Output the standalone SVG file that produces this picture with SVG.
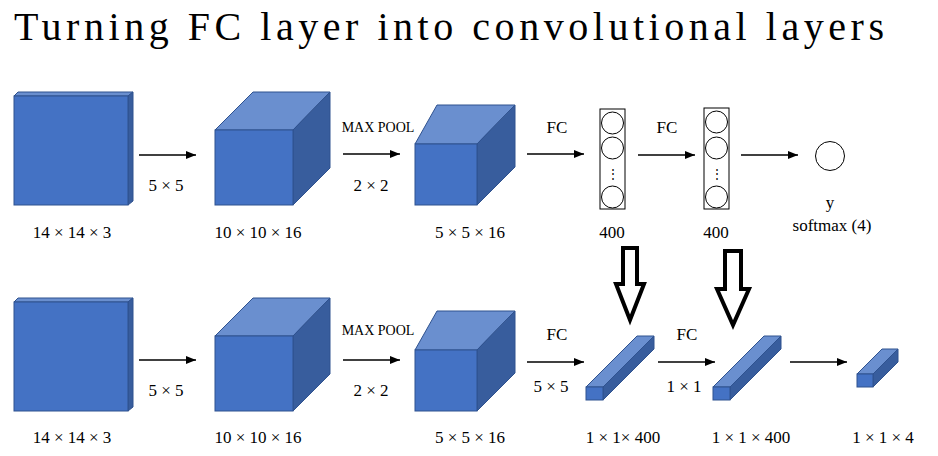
<svg xmlns="http://www.w3.org/2000/svg" width="938" height="456" viewBox="0 0 938 456">
<defs>
<style>
.f{fill:#4472C4;stroke:#2F528F;stroke-width:1}
.t{fill:#6A8FCF;stroke:#2F528F;stroke-width:1}
.s{fill:#385D9D;stroke:#2F528F;stroke-width:1}
text{font-family:"Liberation Serif","DejaVu Serif",serif;font-size:17px;fill:#000}
.c{text-anchor:middle}
.sm{font-size:14px}
.ln{stroke:#000;stroke-width:1.3;fill:none}
.nd{fill:#fff;stroke:#000;stroke-width:1}
.big{fill:none;stroke:#000;stroke-width:4;stroke-linejoin:miter}
</style>
<marker id="ah" markerWidth="10" markerHeight="8" refX="10" refY="4" orient="auto" markerUnits="userSpaceOnUse"><path d="M0,0 L10,4 L0,8 Z" fill="#000"/></marker>
</defs>
<rect width="938" height="456" fill="#fff"/>
<text x="14" y="40" style="font-size:40px" textLength="870">Turning FC layer into convolutional layers</text>

<g id="top-in">
<polygon class="t" points="14,96 18,92 133,92 128,96"/><polygon class="s" points="128,96 133,92 133,201 128,205"/><rect class="f" x="14" y="96" width="114" height="109"/>
<text class="c" x="72" y="238">14 × 14 × 3</text></g>
<g id="top-conv">
<polygon class="t" points="215,130 253,92 330,92 293,130"/><polygon class="s" points="293,130 330,92 330,168 293,205"/><rect class="f" x="215" y="130" width="78" height="75"/>
<text class="c" x="258" y="238">10 × 10 × 16</text></g>
<g id="top-pool">
<polygon class="t" points="415,144 437,105 515,105 477,144"/><polygon class="s" points="477,144 515,105 515,167 477,205"/><rect class="f" x="415" y="144" width="62" height="61"/>
<text class="c" x="470" y="238">5 × 5 × 16</text></g>
<g id="top-fc1"><rect x="600" y="109" width="25" height="100" fill="#fff" stroke="#000"/>
<circle class="nd" cx="612.5" cy="123" r="11"/><circle class="nd" cx="612.5" cy="148" r="11"/><circle class="nd" cx="612.5" cy="197" r="11"/>
<text class="c" x="612.5" y="178" style="font-size:12px">⋮</text>
<text class="c" x="612" y="238">400</text></g>
<g id="top-fc2"><rect x="704" y="108" width="25" height="101" fill="#fff" stroke="#000"/>
<circle class="nd" cx="716.5" cy="122" r="11"/><circle class="nd" cx="716.5" cy="148" r="11"/><circle class="nd" cx="716.5" cy="197" r="11"/>
<text class="c" x="716.5" y="178" style="font-size:12px">⋮</text>
<text class="c" x="716" y="238">400</text></g>
<g id="top-out"><circle class="nd" cx="830" cy="156" r="14.5"/>
<text class="c" x="830" y="208">y</text><text class="c" x="832" y="231">softmax (4)</text></g>

<g id="bot-in">
<polygon class="t" points="14,302 18,298 133,298 128,302"/><polygon class="s" points="128,302 133,298 133,407 128,411"/><rect class="f" x="14" y="302" width="114" height="109"/>
<text class="c" x="72" y="443">14 × 14 × 3</text></g>
<g id="bot-conv">
<polygon class="t" points="215,336 253,298 330,298 293,336"/><polygon class="s" points="293,336 330,298 330,374 293,411"/><rect class="f" x="215" y="336" width="78" height="75"/>
<text class="c" x="258" y="443">10 × 10 × 16</text></g>
<g id="bot-pool">
<polygon class="t" points="415,350 437,311 515,311 477,350"/><polygon class="s" points="477,350 515,311 515,373 477,411"/><rect class="f" x="415" y="350" width="62" height="61"/>
<text class="c" x="470" y="443">5 × 5 × 16</text></g>
<g id="bot-fc1">
<polygon class="t" points="586,387 637,336 654,336 603,387"/><polygon class="s" points="603,387 654,336 654,349 603,400"/><rect class="f" x="586" y="387" width="17" height="13"/>
<text class="c" x="623" y="443">1 × 1× 400</text></g>
<g id="bot-fc2">
<polygon class="t" points="713,387 764,336 781,336 730,387"/><polygon class="s" points="730,387 781,336 781,349 730,400"/><rect class="f" x="713" y="387" width="17" height="13"/>
<text class="c" x="751" y="443">1 × 1 × 400</text></g>
<g id="bot-out">
<polygon class="t" points="857,374 882,349 898,349 873,374"/><polygon class="s" points="873,374 898,349 898,362 873,387"/><rect class="f" x="857" y="374" width="16" height="13"/>
<text class="c" x="883" y="443">1 × 1 × 4</text></g>

<g id="connectors">
<line class="ln" x1="139" y1="155" x2="196" y2="155" marker-end="url(#ah)"/>
<line class="ln" x1="343" y1="154" x2="400" y2="154" marker-end="url(#ah)"/>
<line class="ln" x1="527" y1="154" x2="584" y2="154" marker-end="url(#ah)"/>
<line class="ln" x1="638" y1="155" x2="695" y2="155" marker-end="url(#ah)"/>
<line class="ln" x1="741" y1="155" x2="798" y2="155" marker-end="url(#ah)"/>
<line class="ln" x1="139" y1="360" x2="196" y2="360" marker-end="url(#ah)"/>
<line class="ln" x1="343" y1="360" x2="400" y2="360" marker-end="url(#ah)"/>
<line class="ln" x1="527" y1="362" x2="584" y2="362" marker-end="url(#ah)"/>
<line class="ln" x1="658" y1="362" x2="715" y2="362" marker-end="url(#ah)"/>
<line class="ln" x1="790" y1="362" x2="847" y2="362" marker-end="url(#ah)"/>
<polygon class="big" points="623,248 637,248 637,284 644,284 630,320 616,284 623,284"/>
<polygon class="big" points="725,251 741,251 741,289 749,289 733,325 717,289 725,289"/>
<text class="c" x="166" y="191">5 × 5</text>
<text class="c sm" x="378" y="132">MAX POOL</text>
<text class="c" x="371" y="191">2 × 2</text>
<text class="c" x="557" y="133">FC</text>
<text class="c" x="667" y="133">FC</text>
<text class="c" x="166" y="396">5 × 5</text>
<text class="c sm" x="378" y="335">MAX POOL</text>
<text class="c" x="371" y="396">2 × 2</text>
<text class="c" x="557" y="340">FC</text>
<text class="c" x="687" y="340">FC</text>
<text class="c" x="551" y="392">5 × 5</text>
<text class="c" x="684" y="392">1 × 1</text>
</g>
</svg>
